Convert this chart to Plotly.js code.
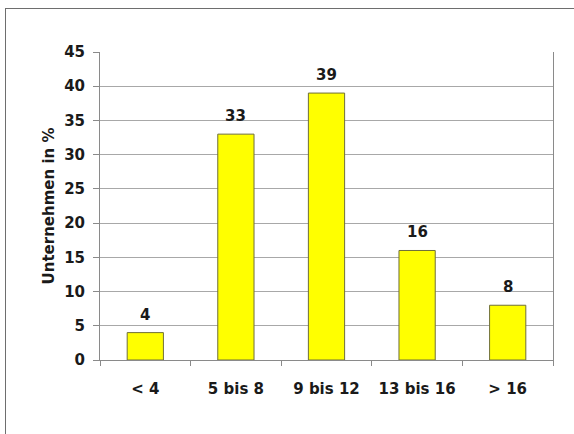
<!DOCTYPE html>
<html><head><meta charset="utf-8">
<script src="https://cdn.plot.ly/plotly-3.0.1.min.js"></script>
<style>
html,body{margin:0;padding:0;background:#fff;}
#wrap{position:relative;width:574px;height:434px;overflow:hidden;}
#frame{position:absolute;left:5px;top:8px;width:600px;height:500px;border-left:1px solid #6e6e6e;border-top:1px solid #6e6e6e;}
#chart{position:absolute;left:0;top:0;width:574px;height:434px;}
</style></head>
<body><div id="wrap"><div id="frame"></div><div id="chart"></div></div>
<script>
const categories = ['< 4', '5 bis 8', '9 bis 12', '13 bis 16', '> 16'];
const values = [4, 33, 39, 16, 8];
const yTicks = [0,5,10,15,20,25,30,35,40,45];
const yTitle = 'Unternehmen in %';

const font = {family: 'DejaVu Sans, sans-serif', size: 15, color: '#1a1a1a', weight: 'bold'};

const trace = {
  type: 'bar', x: categories, y: values,
  marker: {color: '#ffff00', line: {color: '#6f6f3a', width: 1}},
  width: 0.4, hoverinfo: 'none'
};
const annotations = categories.map((c, i) => ({
  x: c, y: values[i], text: String(values[i]), showarrow: false,
  yanchor: 'bottom', yshift: 7, font: font
}));
const layout = {
  width: 574, height: 434,
  margin: {l: 100, r: 21, t: 52, b: 74},
  paper_bgcolor: 'rgba(0,0,0,0)', plot_bgcolor: 'rgba(0,0,0,0)',
  showlegend: false, bargap: 0.6,
  font: font,
  xaxis: {
    type: 'category', tickson: 'boundaries', ticks: 'outside', ticklen: 5,
    tickcolor: '#8a8a8a', showline: true, linecolor: '#8a8a8a', linewidth: 1,
    showgrid: false, zeroline: false, tickfont: font, ticklabelstandoff: 15,
    mirror: false
  },
  yaxis: {
    range: [0, 45], tickvals: yTicks, ticktext: yTicks.map(String),
    ticks: 'outside', ticklen: 6, tickcolor: '#8a8a8a',
    showline: true, linecolor: '#8a8a8a', linewidth: 1, mirror: true,
    showgrid: true, gridcolor: '#a8a8a8', gridwidth: 1, zeroline: false,
    tickfont: font, ticklabelstandoff: 5,
    title: {text: yTitle, font: {family: 'DejaVu Sans, sans-serif', size: 15, color: '#1a1a1a', weight: 'bold'}, standoff: 5}
  },
  annotations: annotations
};
Plotly.newPlot('chart', [trace], layout, {displayModeBar: false, staticPlot: true});
</script></body></html>
